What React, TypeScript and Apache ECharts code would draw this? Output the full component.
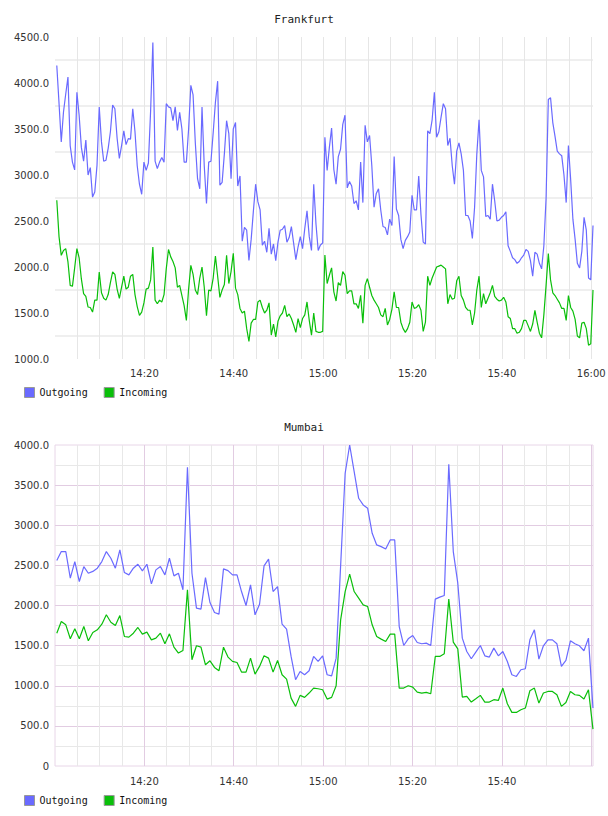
import React, { useEffect, useRef } from 'react';
import * as echarts from 'echarts';

// Traffic samples (bytes/s) — Frankfurt every 30 s, Mumbai roughly every minute
const frankfurtOutgoing = [
  4190, 3780, 3360, 3685, 3880, 4065, 3320, 3140, 3055, 3900,
  3650, 3300, 3150, 3380, 3000, 3080, 2760, 2815, 3105, 3740,
  3360, 3150, 3160, 3290, 3470, 3760, 3720, 3400, 3180, 3320,
  3480, 3330, 3395, 3390, 3720, 3470, 3100, 2900, 2790, 3140,
  3050, 3130, 3700, 4440, 3150, 3070, 3140, 3190, 3140, 3775,
  3740, 3730, 3590, 3740, 3485, 3680, 3500, 3140, 3140, 3500,
  3975, 3870, 3350, 2960, 2850, 3740, 3100, 2690, 3140, 3150,
  3460, 3790, 4020, 2890, 2920, 3230, 3590, 3450, 2960, 3500,
  3570,
  2880, 2990, 2280, 2430, 2400, 2070, 2300, 2610, 2900, 2710,
  2620, 2236, 2280, 2160, 2420, 2140, 2250, 2070, 2270, 2400,
  2410, 2450, 2270, 2320, 2440, 2260, 2080, 2220, 2330, 2200,
  2420, 2610, 2330, 2180, 2900, 2470, 2180, 2240, 2260, 3410,
  3050, 3300, 3510, 3060, 2900, 3200, 3280, 3550, 3650, 2860,
  2930, 2880, 2690, 2720, 2620, 3140, 2700, 3540, 3360, 3430,
  3100, 2650, 2800, 2850, 2620, 2440, 2430, 2350, 2520, 2450,
  3200, 2630, 2560, 2300, 2200, 2290, 2330, 2380, 2780, 2620,
  2620, 2990, 2570, 2270, 2250, 3480, 3450, 3600, 3900, 3410,
  3470, 3630, 3775, 3720, 3320, 3400, 3100, 2900, 3260, 3350,
  3230, 3050, 2560, 2560, 2500, 2310, 2650, 3230, 3600, 3050,
  2980, 2550, 2560, 2520, 2900, 2720, 2500, 2510, 2540, 2560,
  2600, 2230, 2170, 2100, 2080, 2040, 2060, 2100, 2130, 2190,
  2170, 2070, 1900, 2160, 2140, 2040, 1980, 2230, 2750, 3820,
  3840, 3570, 3420, 3260, 3230, 3210, 3000, 2700, 3320, 2950,
  2520, 2300, 2040, 1990, 2170, 2540, 2400, 1880, 1860, 2450,
];

const frankfurtIncoming = [
  2725, 2330, 2127, 2180, 2200, 2055, 1800, 1790, 1990, 2200,
  2100, 1870, 1710, 1680, 1565, 1560, 1510, 1640, 1640, 1946,
  1720, 1660, 1640, 1700, 1830, 1946, 1920, 1760, 1660, 1780,
  1900, 1760, 1780, 1900, 1920, 1700, 1570, 1475, 1510, 1610,
  1760, 1770, 1860, 2218, 1640, 1600, 1640, 1620, 1700, 1982,
  2190, 2110, 2060, 1990, 1780, 1800, 1690, 1580, 1420, 1760,
  2018, 1920, 1750, 1700, 1880, 2000, 1780, 1470, 1750, 1740,
  1880, 2120, 1900, 1670, 1750, 1810, 2127, 1820, 1950, 2150,
  1770,
  1700, 1550, 1500, 1520, 1330, 1190, 1390, 1430, 1430, 1620,
  1640, 1560, 1500, 1530, 1610, 1260, 1380, 1240, 1410, 1470,
  1500, 1583, 1460, 1490, 1440, 1370, 1290, 1440, 1340, 1440,
  1480, 1620, 1420, 1260, 1500, 1300, 1290, 1290, 1300, 2130,
  1820, 1910, 1990, 1730, 1630, 1830, 1800, 1950, 1910, 1710,
  1740, 1740, 1600, 1600, 1550, 1692, 1390, 1800, 1873, 1780,
  1690, 1640, 1600, 1560, 1480, 1460, 1550, 1370, 1430, 1540,
  1730, 1560, 1560, 1400, 1330, 1290, 1330, 1400, 1620, 1550,
  1560, 1590, 1530, 1300, 1400, 1900, 1800, 1880, 1940, 2000,
  2010, 2020, 2000, 1980, 1600, 1700, 1650, 1660, 1850, 1900,
  1690, 1640, 1560, 1530, 1530, 1370, 1500, 1750, 1900, 1560,
  1710, 1600, 1660, 1720, 1800, 1680, 1650, 1630, 1640, 1670,
  1620, 1460, 1440, 1330, 1330, 1280, 1290, 1330, 1420, 1420,
  1360, 1300, 1380, 1529, 1400, 1280, 1230, 1480, 1800, 2145,
  1860, 1720, 1690, 1650, 1610, 1550, 1550, 1420, 1690, 1560,
  1520, 1430, 1250, 1230, 1390, 1400, 1330, 1150, 1165, 1750,
];

const mumbaiOutgoing = [
  2560, 2672, 2672, 2340, 2547, 2299, 2485, 2402, 2425, 2465,
  2547, 2672, 2589, 2465, 2693, 2411, 2382, 2465, 2514, 2431,
  2514, 2270, 2444, 2485, 2382, 2589, 2369, 2402, 2195, 3722,
  2402, 1967, 1954, 2348, 2037, 1913, 1892, 2456, 2435, 2382,
  2382, 2174, 2000, 2257, 1884, 2016, 2493, 2577, 2174, 2236,
  1767, 1705, 1365, 1075, 1178, 1137, 1187, 1365, 1303, 1373,
  1137,
  1124, 1344, 2500, 3647, 4000, 3668, 3336, 3253, 3211, 2900,
  2755, 2734, 2705, 2817, 2817, 1738, 1502, 1585, 1626, 1539,
  1523, 1531, 1502, 2079, 2104, 2124, 3759, 2672, 2278, 1593,
  1427, 1336, 1419, 1502, 1373, 1357, 1469, 1373, 1427, 1303,
  1137, 1116, 1199, 1212, 1572, 1697, 1332, 1498, 1572, 1572,
  1523, 1241, 1315, 1560, 1523, 1498, 1436, 1593, 722,
];

const mumbaiIncoming = [
  1655, 1801, 1759, 1585, 1709, 1585, 1739, 1560, 1664, 1697,
  1767, 1884, 1792, 1751, 1875, 1614, 1606, 1655, 1726, 1643,
  1668, 1572, 1593, 1655, 1523, 1647, 1481, 1407, 1440, 2195,
  1324, 1498, 1481, 1261, 1311, 1228, 1187, 1481, 1357, 1303,
  1290, 1170, 1170, 1344, 1145, 1241, 1373, 1344, 1170, 1315,
  1137, 1083, 846, 743, 880, 855, 909, 971, 963, 950,
  834,
  855, 1000, 1821, 2174, 2390, 2174, 2091, 2008, 1987, 1759,
  1614, 1581, 1552, 1643, 1643, 971, 971, 1000, 983, 921,
  909, 917, 900, 1365, 1365, 1398, 2079, 1543, 1460, 859,
  867, 797, 838, 880, 797, 797, 826, 817, 971, 776,
  668, 668, 701, 722, 938, 971, 784, 909, 929, 929,
  888, 743, 792, 929, 888, 880, 834, 950, 460,
];

// Sample timing
const frankfurtStart = '14:00:24';
const frankfurtStepSec = 30;
const mumbaiStart = '14:00:24';
const mumbaiStepSec = 60.5;

// Time axis: minutes counted from 14:00
const axisStart = '14:00';
const axisSpanMin = 120.4;

const titles = ['Frankfurt', 'Mumbai'];
const seriesNames = ['Outgoing', 'Incoming'];
const seriesColors = ['#6a6aff', '#0abf0a'];

const frankfurtYTicks = { min: 1000, max: 4500, step: 500 };
const mumbaiYTicks = { min: 0, max: 4000, step: 500 };

function toMinutes(hms: string): number {
  const parts = hms.split(':').map(Number);
  return parts[0] * 60 + parts[1] + (parts[2] || 0) / 60;
}

function buildPoints(values: number[], start: string, stepSec: number) {
  const offset = toMinutes(start) - toMinutes(axisStart);
  return values.map((v, i) => [offset + (i * stepSec) / 60, v]);
}

function clockLabel(v: number, lastAllowed: number): string {
  const r = v / 20;
  if (Math.abs(r - Math.round(r)) > 1e-6) return '';
  if (v <= 0.001 || v > lastAllowed + 0.001) return '';
  const total = Math.round(toMinutes(axisStart) + v);
  const h = Math.floor(total / 60);
  const m = total % 60;
  return `${h}:${m < 10 ? '0' + m : m}`;
}

const tickFont = {
  fontFamily: 'DejaVu Sans',
  fontSize: 10,
  color: '#333',
};

const monoFont = 'DejaVu Sans Mono';

export default function App() {
  const ref = useRef<HTMLDivElement>(null);

  useEffect(() => {
    if (!ref.current) return;
    const chart = echarts.init(ref.current, null, { renderer: 'svg' });

    const plotLeft = 55;
    const plotWidth = 538;
    const grids = [
      { left: plotLeft, top: 37, width: plotWidth, height: 322 },
      { left: plotLeft, top: 445, width: plotWidth, height: 321 },
    ];

    const purple = '#e2cce2';
    const gray = '#e8e8e8';

    const option: any = {
      animation: false,
      backgroundColor: '#ffffff',
      color: seriesColors,
      title: titles.map((t, i) => ({
        text: t,
        left: 'center',
        top: i === 0 ? 9 : 417,
        textStyle: {
          fontFamily: monoFont,
          fontSize: 11,
          fontWeight: 'normal',
          color: '#222',
        },
      })),
      legend: [382, 790].map((top) => ({
        data: seriesNames,
        left: 19,
        top,
        icon: 'rect',
        itemWidth: 10,
        itemHeight: 10,
        itemGap: 16,
        selectedMode: false,
        itemStyle: { borderColor: '#999', borderWidth: 1 },
        textStyle: { fontFamily: monoFont, fontSize: 10, color: '#111' },
      })),
      grid: [
        { ...grids[0], show: false, outerBoundsMode: 'none' },
        {
          ...grids[1],
          show: true,
          borderColor: '#e8d6e8',
          borderWidth: 1,
          backgroundColor: '#fff',
          outerBoundsMode: 'none',
        },
      ],
      xAxis: [
        {
          type: 'value',
          gridIndex: 0,
          min: 0,
          max: axisSpanMin,
          interval: 5,
          axisLine: { show: false },
          axisTick: { show: false },
          splitLine: {
            show: true,
            showMinLine: false,
            showMaxLine: false,
            lineStyle: { color: '#e6e6e6', width: 1 },
          },
          axisLabel: {
            ...tickFont,
            margin: 9,
            interval: 0,
            formatter: (v: number) => clockLabel(v, 120),
          },
        },
        {
          type: 'value',
          gridIndex: 1,
          position: 'top',
          min: 0,
          max: axisSpanMin,
          interval: 5,
          z: 0,
          axisLine: { show: false },
          axisTick: { show: false },
          axisLabel: { show: false },
          splitLine: {
            show: true,
            showMinLine: false,
            showMaxLine: false,
            lineStyle: { color: gray, width: 1 },
          },
        },
        {
          type: 'value',
          gridIndex: 1,
          position: 'bottom',
          min: 0,
          max: axisSpanMin,
          interval: 20,
          z: 1,
          axisLine: { show: false },
          axisTick: { show: false },
          splitLine: {
            show: true,
            showMinLine: false,
            showMaxLine: false,
            lineStyle: { color: purple, width: 1 },
          },
          axisLabel: {
            ...tickFont,
            margin: 10,
            interval: 0,
            formatter: (v: number) => clockLabel(v, 100),
          },
        },
      ],
      yAxis: [
        {
          type: 'value',
          gridIndex: 0,
          min: frankfurtYTicks.min,
          max: frankfurtYTicks.max,
          interval: frankfurtYTicks.step,
          axisLine: { show: false },
          axisTick: { show: false },
          splitLine: { show: false },
          minorTick: { show: false, splitNumber: 2 },
          minorSplitLine: {
            show: true,
            lineStyle: { color: '#efefef', width: 2 },
          },
          axisLabel: {
            ...tickFont,
            margin: 6,
            formatter: (v: number) => v.toFixed(1),
          },
        },
        {
          type: 'value',
          gridIndex: 1,
          min: mumbaiYTicks.min,
          max: mumbaiYTicks.max,
          interval: mumbaiYTicks.step,
          axisLine: { show: false },
          axisTick: { show: false },
          splitLine: {
            show: true,
            showMinLine: false,
            showMaxLine: false,
            lineStyle: { color: purple, width: 1 },
          },
          minorTick: { show: false, splitNumber: 2 },
          minorSplitLine: {
            show: true,
            lineStyle: { color: gray, width: 1 },
          },
          axisLabel: {
            ...tickFont,
            margin: 6,
            formatter: (v: number) => (v === 0 ? '0' : v.toFixed(1)),
          },
        },
      ],
      series: [
        {
          name: seriesNames[0],
          data: buildPoints(frankfurtOutgoing, frankfurtStart, frankfurtStepSec),
          xAxisIndex: 0,
          yAxisIndex: 0,
          color: seriesColors[0],
        },
        {
          name: seriesNames[1],
          data: buildPoints(frankfurtIncoming, frankfurtStart, frankfurtStepSec),
          xAxisIndex: 0,
          yAxisIndex: 0,
          color: seriesColors[1],
        },
        {
          name: seriesNames[0],
          data: buildPoints(mumbaiOutgoing, mumbaiStart, mumbaiStepSec),
          xAxisIndex: 1,
          yAxisIndex: 1,
          color: seriesColors[0],
        },
        {
          name: seriesNames[1],
          data: buildPoints(mumbaiIncoming, mumbaiStart, mumbaiStepSec),
          xAxisIndex: 1,
          yAxisIndex: 1,
          color: seriesColors[1],
        },
      ].map((s) => ({
        ...s,
        type: 'line',
        showSymbol: false,
        symbol: 'none',
        z: 3,
        itemStyle: { color: s.color },
        lineStyle: { color: s.color, width: 1.2 },
      })),
    };

    chart.setOption(option);
    return () => chart.dispose();
  }, []);

  return (
    <div
      ref={ref}
      style={{
        position: 'fixed',
        left: 0,
        top: 0,
        width: 608,
        height: 816,
        background: '#fff',
      }}
    />
  );
}
